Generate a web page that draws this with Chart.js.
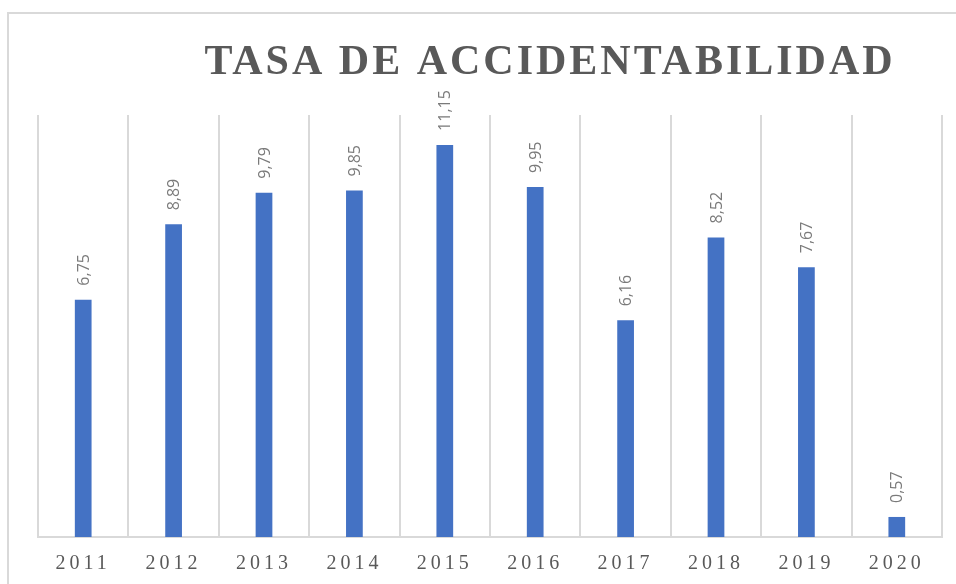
<!DOCTYPE html>
<html>
<head>
<meta charset="utf-8">
<script src="https://cdn.jsdelivr.net/npm/chart.js@4/dist/chart.umd.min.js"></script>
<style>
  html, body { margin: 0; padding: 0; background: #fff; }
  #wrap { position: relative; width: 956px; height: 584px; }
</style>
</head>
<body>
<div id="wrap"><canvas id="chart"></canvas></div>
<script>
const years = ['2011', '2012', '2013', '2014', '2015', '2016', '2017', '2018', '2019', '2020'];
const tasa = [6.75, 8.89, 9.79, 9.85, 11.15, 9.95, 6.16, 8.52, 7.67, 0.57];
const chartTitle = 'TASA DE ACCIDENTABILIDAD';

const gray = '#595959';
const lineGray = '#d9d9d9';

// marco exterior + espaciado de letras para los años
const framePlugin = {
    id: 'frame',
    beforeDraw(chart) {
        const ctx = chart.ctx;
        ctx.save();
        ctx.strokeStyle = lineGray;
        ctx.lineWidth = 2;
        ctx.strokeRect(8, 13, 1200, 1200);
        ctx.restore();
        ctx.letterSpacing = '4px';
    },
    beforeDatasetsDraw(chart) {
        chart.ctx.letterSpacing = '0px';
    }
};

const titlePlugin = {
    id: 'bigTitle',
    afterDraw(chart) {
        const ctx = chart.ctx;
        ctx.save();
        ctx.letterSpacing = '3px';
        ctx.font = 'bold 42px "Liberation Serif", "Times New Roman", serif';
        ctx.fillStyle = gray;
        ctx.textAlign = 'center';
        ctx.textBaseline = 'alphabetic';
        ctx.fillText(chartTitle, 550, 74);
        ctx.restore();
    }
};

// etiquetas de datos giradas
const labelPlugin = {
    id: 'valueLabels',
    afterDatasetsDraw(chart) {
        const ctx = chart.ctx;
        const meta = chart.getDatasetMeta(0);
        ctx.save();
        ctx.letterSpacing = '0px';
        ctx.font = '16px "Open Sans", "Liberation Sans", sans-serif';
        ctx.fillStyle = '#7a7a7a';
        ctx.textAlign = 'left';
        ctx.textBaseline = 'middle';
        meta.data.forEach((bar, i) => {
            ctx.save();
            ctx.translate(bar.x + 1, bar.y - 14);
            ctx.rotate(-Math.PI / 2);
            ctx.fillText(tasa[i].toFixed(2).replace('.', ','), 0, 0);
            ctx.restore();
        });
        ctx.restore();
    }
};

new Chart(document.getElementById('chart'), {
    type: 'bar',
    data: {
        labels: years,
        datasets: [{
            label: chartTitle,
            data: tasa,
            backgroundColor: '#4472c4',
            borderWidth: 0,
            categoryPercentage: 1,
            barPercentage: 0.185
        }]
    },
    options: {
        responsive: true,
        maintainAspectRatio: false,
        animation: false,
        layout: { padding: { top: 115, left: 38, right: 14, bottom: -7 } },
        plugins: {
            legend: { display: false },
            tooltip: { enabled: false },
            title: { display: false }
        },
        scales: {
            x: {
                grid: {
                    offset: true,
                    color: lineGray,
                    lineWidth: 2,
                    drawTicks: false
                },
                border: { color: lineGray, width: 2 },
                ticks: {
                    color: gray,
                    font: { family: '"Liberation Serif", "Times New Roman", serif', size: 20 },
                    padding: 15,
                    maxRotation: 0,
                    autoSkip: false
                }
            },
            y: {
                display: false,
                min: 0,
                max: 12
            }
        }
    },
    plugins: [framePlugin, titlePlugin, labelPlugin]
});
</script>
</body>
</html>
